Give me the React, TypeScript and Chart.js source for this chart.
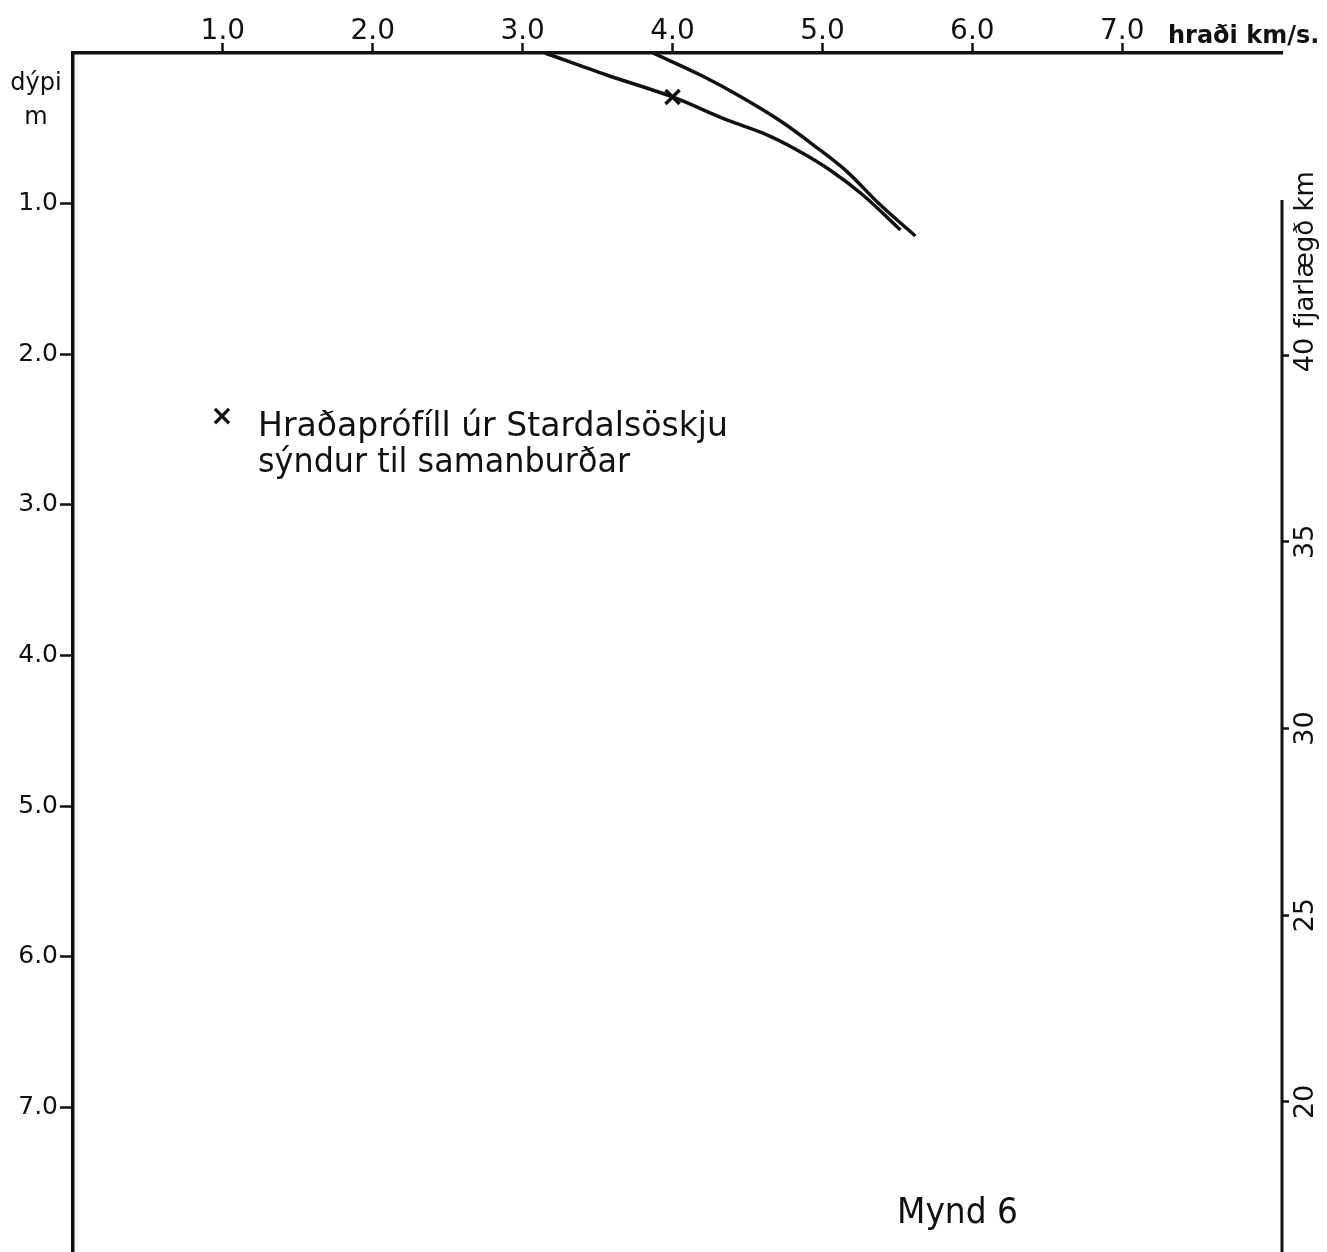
import React, { useEffect, useRef } from 'react';
import { Chart, registerables } from 'chart.js';

Chart.register(...registerables);

// ---- data ----
const velocityTicks = [1, 2, 3, 4, 5, 6, 7];
const depthTicks = [1, 2, 3, 4, 5, 6, 7];
const distanceTicks = [20, 25, 30, 35, 40];

const profileAVelocity = [3.15, 3.56, 4.0, 4.38, 4.6, 4.83, 5.05, 5.27, 5.52];
const profileADepth = [0, 0.146, 0.292, 0.451, 0.531, 0.644, 0.777, 0.943, 1.175];
const profileBVelocity = [3.87, 4.2, 4.47, 4.72, 4.94, 5.16, 5.38, 5.62];
const profileBDepth = [0, 0.153, 0.299, 0.452, 0.611, 0.784, 1.003, 1.215];
const stardalurVelocity = [4.0];
const stardalurDepth = [0.292];

const legendLines = ['Hraðaprófíll úr Stardalsöskju', 'sýndur til samanburðar'];
const velocityTitle = 'hraði km/s.';
const depthTitle = ['dýpi', 'm'];
const distanceTitle = 'fjarlægð km';
const figureLabel = 'Mynd 6';

const ink = '#111111';
const FONT = "'DejaVu Sans', sans-serif";

const toPoints = (xs: number[], ys: number[]) => xs.map((x, i) => ({ x, y: ys[i] }));

const noPadding = (axis: any) => {
  axis.paddingTop = 0;
  axis.paddingBottom = 0;
  axis.paddingLeft = 0;
  axis.paddingRight = 0;
};

const annotationPlugin = {
  id: 'annotations',
  afterDraw(chart: any) {
    const ctx = chart.ctx as CanvasRenderingContext2D;
    ctx.save();
    ctx.fillStyle = ink;
    ctx.strokeStyle = ink;

    // right distance axis line (starts below the top)
    const y2 = chart.scales.y2;
    ctx.lineWidth = 3;
    ctx.beginPath();
    ctx.moveTo(y2.left, y2.getPixelForValue(44.15));
    ctx.lineTo(y2.left, y2.bottom);
    ctx.stroke();

    // velocity axis title
    ctx.textBaseline = 'alphabetic';
    ctx.textAlign = 'left';
    ctx.font = `bold 24px ${FONT}`;
    ctx.fillText(velocityTitle, 1168, 43, 155);

    // depth title
    ctx.font = `24px ${FONT}`;
    ctx.textAlign = 'center';
    ctx.fillText(depthTitle[0], 36, 90);
    ctx.fillText(depthTitle[1], 36, 124);

    // distance title (rotated)
    ctx.save();
    ctx.translate(1306, 328);
    ctx.rotate(-Math.PI / 2);
    ctx.textAlign = 'left';
    ctx.textBaseline = 'middle';
    ctx.font = `26px ${FONT}`;
    ctx.fillText(distanceTitle, 0, 0, 176);
    ctx.restore();

    // legend
    ctx.textAlign = 'center';
    ctx.textBaseline = 'middle';
    ctx.font = `bold 28px ${FONT}`;
    ctx.fillText('×', 222, 418);
    ctx.textAlign = 'left';
    ctx.textBaseline = 'alphabetic';
    ctx.font = `34px ${FONT}`;
    ctx.fillText(legendLines[0], 258, 436, 470);
    ctx.fillText(legendLines[1], 258, 472, 372);

    // figure label
    ctx.font = `36px ${FONT}`;
    ctx.fillText(figureLabel, 897, 1223, 121);

    ctx.restore();
  },
};

export default function App() {
  const ref = useRef<HTMLCanvasElement | null>(null);

  useEffect(() => {
    if (!ref.current) return;
    const lineStyle = {
      borderColor: ink,
      borderWidth: 3.5,
      pointRadius: 0,
      cubicInterpolationMode: 'monotone',
      fill: false,
    };
    const chart = new Chart(ref.current, {
      type: 'line',
      data: {
        datasets: [
          { ...lineStyle, label: 'A', data: toPoints(profileAVelocity, profileADepth) },
          { ...lineStyle, label: 'B', data: toPoints(profileBVelocity, profileBDepth) },
          {
            label: 'Stardalsaskja',
            data: toPoints(stardalurVelocity, stardalurDepth),
            showLine: false,
            pointStyle: 'crossRot',
            pointRadius: 10,
            pointBorderWidth: 3.5,
            borderColor: ink,
            backgroundColor: ink,
          },
        ],
      },
      options: {
        animation: false,
        responsive: false,
        devicePixelRatio: 1,
        layout: { padding: 0, autoPadding: false },
        plugins: { legend: { display: false }, tooltip: { enabled: false } },
        scales: {
          x: {
            type: 'linear',
            position: 'top',
            min: 0,
            max: 8.066,
            afterBuildTicks: (axis: any) => {
              axis.ticks = velocityTicks.map((v) => ({ value: v }));
            },
            afterFit: (axis: any) => {
              axis.height = 53;
              noPadding(axis);
            },
            ticks: {
              autoSkip: false,
              maxRotation: 0,
              minRotation: 0,
              padding: -6,
              color: ink,
              font: { family: FONT, size: 28 },
              callback: (v: any) => Number(v).toFixed(1),
            },
            grid: {
              drawOnChartArea: false,
              drawTicks: true,
              tickLength: 10,
              tickWidth: 2.5,
              tickColor: ink,
            },
            border: { display: true, color: ink, width: 3.5 },
          },
          y: {
            type: 'linear',
            position: 'left',
            reverse: true,
            min: 0,
            max: 7.961,
            afterBuildTicks: (axis: any) => {
              axis.ticks = depthTicks.map((v) => ({ value: v }));
            },
            afterFit: (axis: any) => {
              axis.width = 73;
              noPadding(axis);
            },
            ticks: {
              autoSkip: false,
              padding: 2,
              color: ink,
              font: { family: FONT, size: 25 },
              callback: (v: any) => Number(v).toFixed(1),
            },
            grid: {
              drawOnChartArea: false,
              drawTicks: true,
              tickLength: 13,
              tickWidth: 2.5,
              tickColor: ink,
            },
            border: { display: true, color: ink, width: 3.5 },
          },
          y2: {
            type: 'linear',
            position: 'right',
            min: 15.98,
            max: 48.09,
            afterBuildTicks: (axis: any) => {
              axis.ticks = distanceTicks.map((v) => ({ value: v }));
            },
            afterFit: (axis: any) => {
              axis.width = 45;
              noPadding(axis);
            },
            ticks: {
              autoSkip: false,
              minRotation: 90,
              maxRotation: 90,
              crossAlign: 'center',
              padding: 0,
              color: ink,
              font: { family: FONT, size: 27 },
              callback: (v: any) => String(v),
            },
            grid: {
              drawOnChartArea: false,
              drawTicks: true,
              tickLength: 7,
              tickWidth: 2.5,
              tickColor: ink,
            },
            border: { display: false },
          },
        },
      } as any,
      plugins: [annotationPlugin],
    });
    return () => chart.destroy();
  }, []);

  return (
    <div style={{ position: 'fixed', left: 0, top: 0, width: 1327, height: 1252, background: '#ffffff' }}>
      <canvas ref={ref} width={1327} height={1252} style={{ display: 'block' }} />
    </div>
  );
}
